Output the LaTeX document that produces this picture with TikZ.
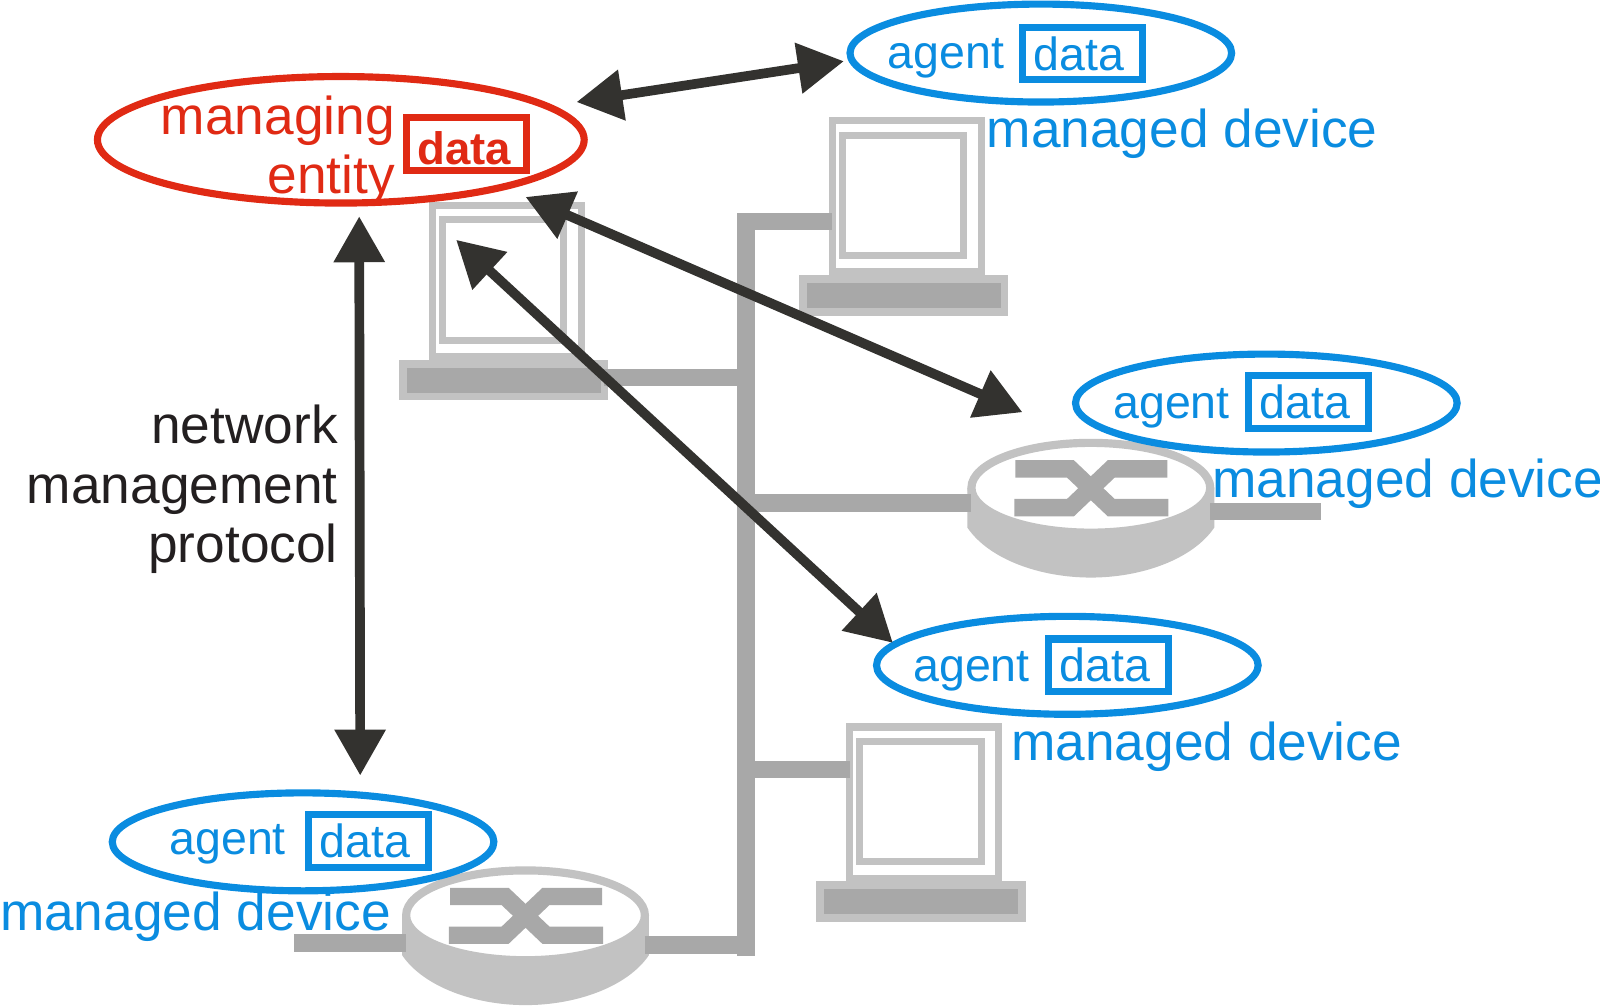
\documentclass[tikz,border=0pt]{standalone}
\usepackage{fontspec}
\setmainfont{Liberation Sans}
\usetikzlibrary{arrows.meta,shapes.geometric}

\definecolor{hubgray}{HTML}{A8A8A8}
\definecolor{shellgray}{HTML}{C2C2C2}
\definecolor{arrowdark}{HTML}{33322F}
\definecolor{agentblue}{HTML}{0A8CE0}
\definecolor{managerred}{HTML}{E02A14}
\definecolor{labelblack}{HTML}{231F20}

\begin{document}
\begin{tikzpicture}[
		x=0.5pt,
		y=-0.5pt,
		every node/.style={
			inner sep=0pt,
			outer sep=0pt,
		},
		largetext/.style={
			font=\fontsize{26.1}{29.25}\selectfont,
		},
		smalltext/.style={
			font=\fontsize{22.8}{27}\selectfont,
		},
		wire/.style={
			hubgray,
			line width=8.5pt,
		},
		crossbar/.style={
			hubgray,
			line width=8.5pt,
			miter limit=4,
		},
		pcframe/.style={
			shape=rectangle,
			draw=shellgray,
			line width=3.5pt,
			minimum width=73pt,
			minimum height=74pt,
		},
		pcscreen/.style={
			pcframe,
			minimum width=59.5pt,
			minimum height=59pt,
		},
		pcbase/.style={
			shape=rectangle,
			draw=shellgray,
			fill=hubgray,
			line width=3.75pt,
			minimum width=98.75pt,
			minimum height=16pt,
		},
		routertop/.style={
			shape=ellipse,
			draw=shellgray,
			fill=white,
			line width=4pt,
			minimum width=117pt,
			minimum height=44pt,
		},
		computer/.pic={
			\node[pcframe] (-frame) at (3,-97) {};
			\node[pcscreen] (-screen) at (-0.5,-98) {};
			\node[pcbase] (-base) at (0,0) {};
		},
		router/.pic={
			\fill[shellgray] (-121,0) -- (-121,39) .. controls (-100,70) and (-50,88) .. (0,88)
				.. controls (50,88) and (100,70) .. (121,39) -- (121,0) -- cycle;
			\node[routertop] (-top) at (0,0) {};
			\draw[crossbar] (-74,-18.5) -- (-20,-18.5) -- (20,19.5) -- (76,19.5);
			\draw[crossbar] (-75,19.5) -- (-20,19.5) -- (20,-18.5) -- (75,-18.5);
		},
		agentring/.style={
			shape=ellipse,
			draw=agentblue,
			line width=3.5pt,
			minimum width=187pt,
			minimum height=48pt,
		},
		managerring/.style={
			shape=ellipse,
			draw=managerred,
			line width=3.5pt,
			minimum width=238.5pt,
			minimum height=62pt,
		},
		agentdata/.style={
			shape=rectangle,
			draw=agentblue,
			text=agentblue,
			smalltext,
			line width=3.5pt,
			inner xsep=5.5pt,
			text width=47.75pt,
			align=left,
			minimum height=25.75pt,
		},
		managerdata/.style={
			agentdata,
			draw=managerred,
			text=managerred,
			font=\fontsize{22.3}{27}\selectfont\bfseries,
			text height=20pt,
			text depth=0pt,
		},
		agentlabel/.style={
			smalltext,
			text=agentblue,
			anchor=base west,
		},
		devicelabel/.style={
			largetext,
			text=agentblue,
			anchor=base west,
		},
		protocolarrow/.style={
			arrowdark,
			line width=4.75pt,
			{Triangle[length=22.5pt,width=24pt]}-{Triangle[length=22.5pt,width=24pt]},
		},
	]
	\useasboundingbox (0,0) rectangle (1568,985);

	\pic (pcManager) at (493.5,372.5) {computer};
	\pic (pcTop) at (885.5,289.5) {computer};
	\pic (pcLow) at (902.5,883.5) {computer};
	\pic (routerRight) at (1069,478) {router};
	\pic (routerBottom) at (515,897) {router};

	\coordinate (trunkTop) at (731,209);
	\coordinate (trunkBottom) at (731,937);
	\coordinate (tapTop) at (731,217);
	\coordinate (tapManager) at (731,370);
	\coordinate (tapRouter) at (731,493);
	\coordinate (tapLow) at (731,754);
	\coordinate (tapBottom) at (731,926);
	\coordinate (stubRight) at (1295,501);
	\coordinate (stubBottom) at (288,924);

	\draw[wire] (trunkTop) -- (trunkBottom);
	\draw[wire] (tapTop) -- (pcTop-frame.west |- tapTop);
	\draw[wire] (pcManager-base.east |- tapManager) -- (tapManager);
	\draw[wire] (tapRouter) -- (routerRight-top.west |- tapRouter);
	\draw[wire] (routerRight-top.east |- stubRight) -- (stubRight);
	\draw[wire] (tapLow) -- (pcLow-frame.west |- tapLow);
	\draw[wire] (routerBottom-top.east |- tapBottom) -- (tapBottom);
	\draw[wire] (stubBottom) -- (routerBottom-top.west |- stubBottom);

	\node[managerring] (managerEllipse) at (334,137) {};
	\node[largetext, text=managerred, align=right, anchor=base east] (managerLabel) at (387,190) {managing\\entity};
	\node[managerdata] (managerData) at (457,141) {data};

	\node[agentring] (agentTop) at (1020,52) {};
	\node[agentlabel] (agentTopLabel) at (870,67) {agent};
	\node[agentdata] (agentTopData) at (1061,52.5) {data};
	\node[devicelabel] (deviceTop) at (967,145) {managed device};

	\node[agentring] (agentRight) at (1241,395) {};
	\node[agentlabel] (agentRightLabel) at (1091,410) {agent};
	\node[agentdata] (agentRightData) at (1282,394) {data};
	\node[devicelabel] (deviceRight) at (1188,488) {managed device};

	\node[agentring] (agentLow) at (1046,652) {};
	\node[agentlabel] (agentLowLabel) at (895,668) {agent};
	\node[agentdata] (agentLowData) at (1086.5,652) {data};
	\node[devicelabel] (deviceLow) at (991,745) {managed device};

	\node[agentring] (agentBottom) at (297,825) {};
	\node[agentlabel] (agentBottomLabel) at (166,837) {agent};
	\node[agentdata] (agentBottomData) at (361,824) {data};
	\node[devicelabel] (deviceBottom) at (0,912) {managed device};

	\node[largetext, text=labelblack, align=right, anchor=base east] (protocolLabel) at (331,551.5) {network\\management\\protocol};

	\coordinate (arrowManagerDown) at (352,212);
	\coordinate (arrowBottomUp) at (353,760);
	\coordinate (arrowManagerTop) at (565,100);
	\coordinate (arrowAgentTop) at (827,60);
	\coordinate (arrowManagerRight) at (515,193);
	\coordinate (arrowAgentRight) at (1002,404);
	\coordinate (arrowPcManager) at (447,235);
	\coordinate (arrowAgentLow) at (875,630);

	\draw[protocolarrow] (arrowManagerDown) -- (arrowBottomUp);
	\draw[protocolarrow] (arrowManagerTop) -- (arrowAgentTop);
	\draw[protocolarrow] (arrowManagerRight) -- (arrowAgentRight);
	\draw[protocolarrow] (arrowPcManager) -- (arrowAgentLow);
\end{tikzpicture}
\end{document}
